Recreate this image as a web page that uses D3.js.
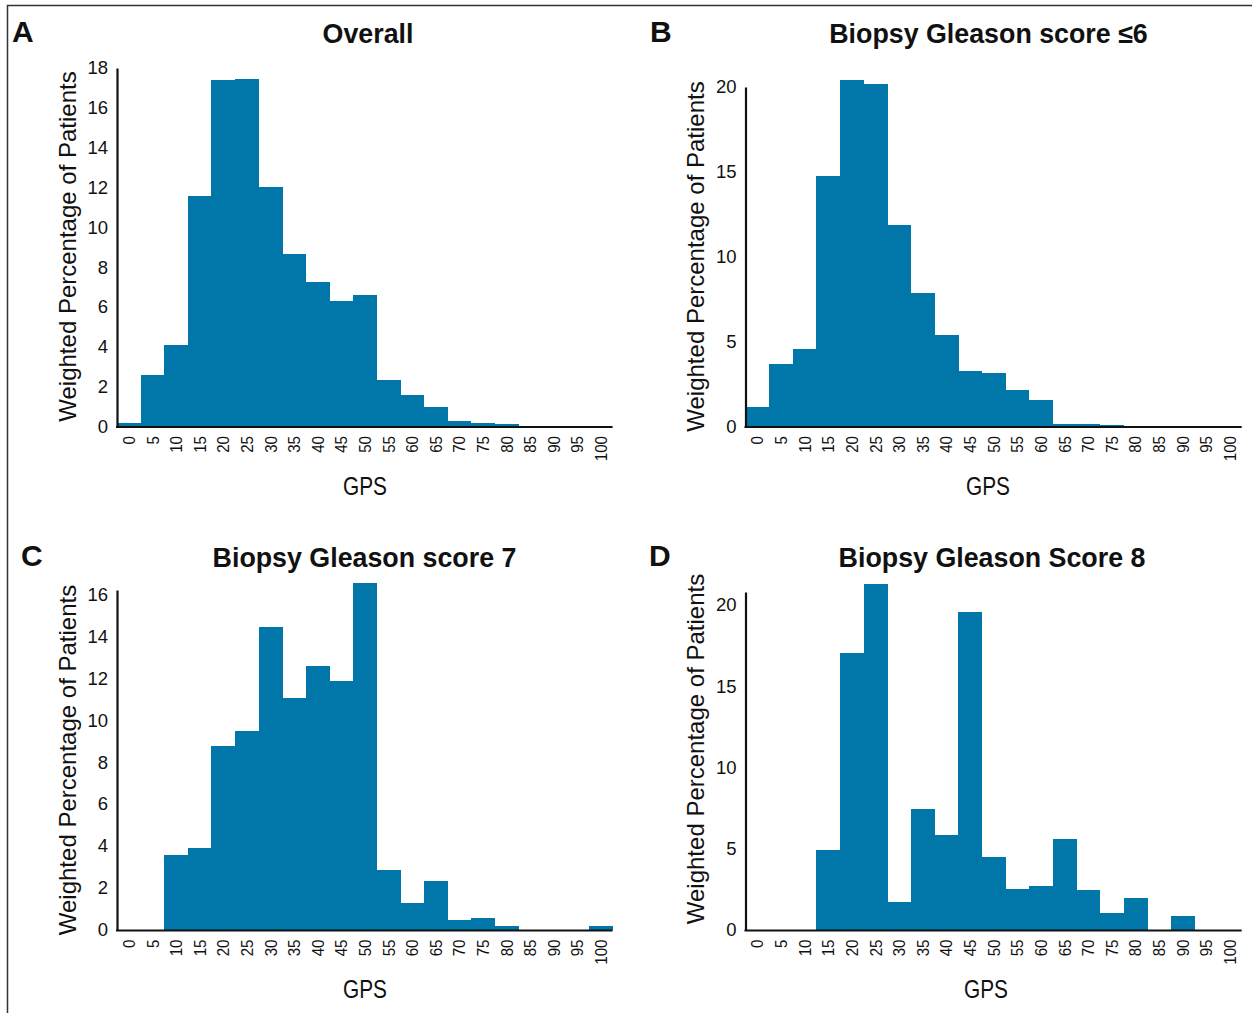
<!DOCTYPE html>
<html>
<head>
<meta charset="utf-8">
<script src="https://cdn.jsdelivr.net/npm/d3@7"></script>
<style>
  html, body { margin: 0; padding: 0; background: #fff; }
  svg { display: block; }
  text { font-family: "Liberation Sans", Arial, Helvetica, sans-serif; fill: #111; }
</style>
</head>
<body>
<svg id="chart" width="1252" height="1013"></svg>
<script>
// ---------------- DATA ----------------
const gpsBins = ["0","5","10","15","20","25","30","35","40","45","50","55","60","65","70","75","80","85","90","95","100"];

const overallValues = [0.17, 2.58, 4.09, 11.58, 17.42, 17.47, 12.03, 8.66, 7.25, 6.29, 6.59, 2.32, 1.56, 0.96, 0.30, 0.20, 0.13, 0, 0, 0, 0];
const gleason6Values = [1.12, 3.66, 4.55, 14.76, 20.43, 20.20, 11.87, 7.85, 5.37, 3.27, 3.13, 2.13, 1.54, 0.12, 0.12, 0.06, 0.05, 0, 0, 0, 0];
const gleason7Values = [0, 0, 3.57, 3.92, 8.79, 9.49, 14.44, 11.07, 12.58, 11.87, 16.54, 2.86, 1.30, 2.34, 0.48, 0.57, 0.19, 0, 0, 0, 0.19];
const gleason8Values = [0, 0, 0, 4.90, 17.02, 21.30, 1.71, 7.47, 5.82, 19.60, 4.47, 2.51, 2.69, 5.57, 2.45, 1.04, 1.96, 0, 0.86, 0, 0];

const overallTicks = [0, 2, 4, 6, 8, 10, 12, 14, 16, 18];
const gleason6Ticks = [0, 5, 10, 15, 20];
const gleason7Ticks = [0, 2, 4, 6, 8, 10, 12, 14, 16];
const gleason8Ticks = [0, 5, 10, 15, 20];

const panelLetters = ["A", "B", "C", "D"];
const panelTitles = ["Overall", "Biopsy Gleason score \u22646", "Biopsy Gleason score 7", "Biopsy Gleason Score 8"];
const yAxisTitle = "Weighted Percentage of Patients";
const xAxisTitle = "GPS";

// ---------------- LAYOUT ----------------
const barColor = "#0076a9";
const panels = [
  { values: overallValues, ticks: overallTicks, yMax: 18, x0: 117, x1: 612.6, base: 426.5, top: 68,
    letterX: 12, letterY: 42, titleX: 368, titleY: 43, yTitleX: 76, yTitleY: 246.5, xTitleX: 365, xTitleY: 495 },
  { values: gleason6Values, ticks: gleason6Ticks, yMax: 20, x0: 745.5, x1: 1241.7, base: 426.5, top: 87,
    letterX: 650, letterY: 42, titleX: 988.5, titleY: 43, yTitleX: 704, yTitleY: 256.5, xTitleX: 988, xTitleY: 495 },
  { values: gleason7Values, ticks: gleason7Ticks, yMax: 16.2, x0: 117, x1: 612.6, base: 930, top: 590,
    letterX: 21, letterY: 566, titleX: 364.5, titleY: 567, yTitleX: 76, yTitleY: 760, xTitleX: 365, xTitleY: 998 },
  { values: gleason8Values, ticks: gleason8Ticks, yMax: 20.8, x0: 745.5, x1: 1241.7, base: 930, top: 592,
    letterX: 649, letterY: 566, titleX: 992, titleY: 567, yTitleX: 703.5, yTitleY: 749, xTitleX: 986, xTitleY: 998 }
];

const svg = d3.select("#chart");

// frame (top and left edges)
svg.append("path")
  .attr("d", "M7.5,1013 L7.5,5.5 L1252,5.5")
  .attr("fill", "none")
  .attr("stroke", "#333")
  .attr("stroke-width", 1.5);

panels.forEach((p, i) => {
  const g = svg.append("g");
  const x = d3.scaleBand().domain(gpsBins).range([p.x0, p.x1]).padding(0);
  const y = d3.scaleLinear().domain([0, p.yMax]).range([p.base, p.top]);

  // bars
  g.selectAll("rect.bar")
    .data(gpsBins.map((b, k) => ({ bin: b, v: p.values[k] })))
    .join("rect")
    .attr("class", "bar")
    .attr("x", d => x(d.bin))
    .attr("width", x.bandwidth() + 0.4)
    .attr("y", d => y(d.v))
    .attr("height", d => Math.max(0, p.base - y(d.v)))
    .attr("fill", barColor)
    .attr("shape-rendering", "crispEdges");

  // x axis
  const xAxis = g.append("g")
    .attr("transform", `translate(0,${p.base})`)
    .call(d3.axisBottom(x).tickSize(0).tickSizeOuter(0));
  xAxis.select(".domain").attr("stroke", "#111").attr("stroke-width", 2.2)
    .attr("d", `M${p.x0 - 1},0.5H${p.x1}`);
  xAxis.selectAll(".tick text")
    .attr("transform", "rotate(-90)")
    .attr("x", -9.5)
    .attr("y", 0)
    .attr("dy", "0.36em")
    .attr("textLength", d => d.length * 8.4)
    .attr("lengthAdjust", "spacingAndGlyphs")
    .style("text-anchor", "end")
    .style("font-size", "17px")
    .style("font-family", "'Liberation Sans', Arial, sans-serif")
    .attr("fill", "#111");

  // y axis
  const yAxis = g.append("g")
    .attr("transform", `translate(${p.x0},0)`)
    .call(d3.axisLeft(y).tickValues(p.ticks).tickSize(0).tickSizeOuter(0).tickPadding(9).tickFormat(d3.format("d")));
  yAxis.select(".domain").attr("stroke", "#111").attr("stroke-width", 2.2);
  yAxis.selectAll(".tick text")
    .style("font-size", "18.5px")
    .style("font-family", "'Liberation Sans', Arial, sans-serif")
    .attr("fill", "#111");

  // panel letter
  svg.append("text")
    .attr("x", p.letterX).attr("y", p.letterY)
    .style("font-size", "30px").style("font-weight", "bold")
    .text(panelLetters[i]);

  // title
  svg.append("text")
    .attr("x", p.titleX).attr("y", p.titleY)
    .attr("text-anchor", "middle")
    .style("font-size", "26.8px").style("font-weight", "bold")
    .text(panelTitles[i]);

  // y axis title
  svg.append("text")
    .attr("transform", `translate(${p.yTitleX},${p.yTitleY}) rotate(-90)`)
    .attr("text-anchor", "middle")
    .style("font-size", "24px")
    .text(yAxisTitle);

  // x axis title
  svg.append("text")
    .attr("x", p.xTitleX).attr("y", p.xTitleY)
    .attr("text-anchor", "middle")
    .attr("textLength", 44)
    .attr("lengthAdjust", "spacingAndGlyphs")
    .style("font-size", "25px")
    .text(xAxisTitle);
});
</script>
</body>
</html>
